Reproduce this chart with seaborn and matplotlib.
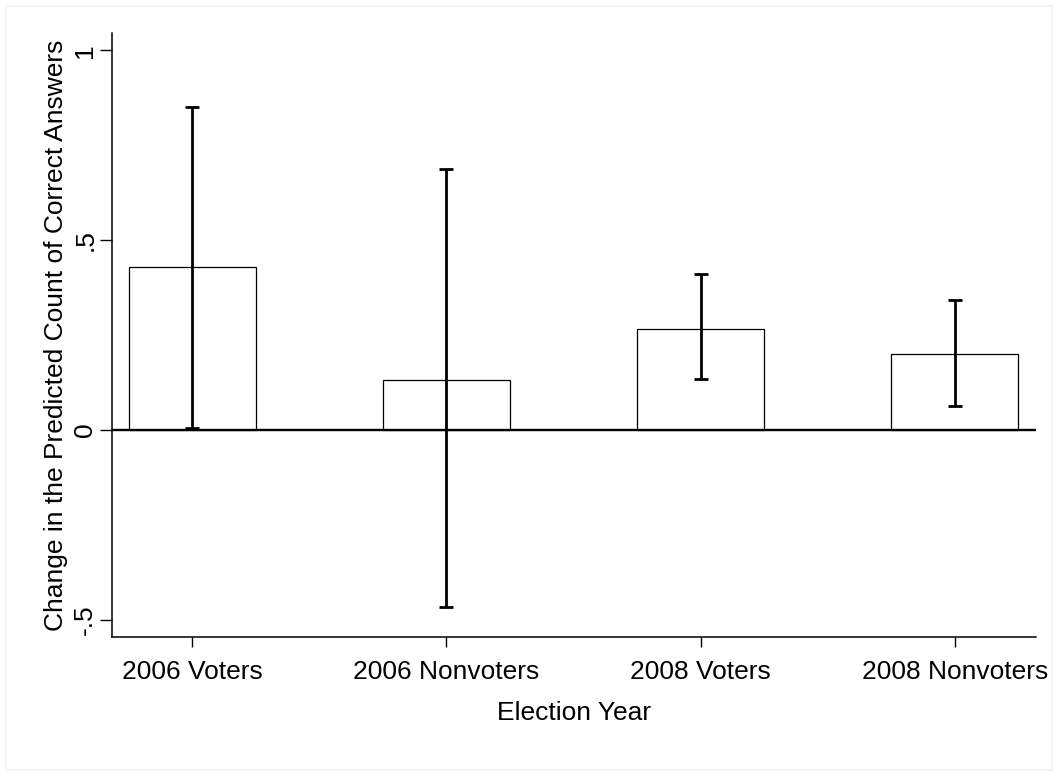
import numpy as np
import pandas as pd
import matplotlib
matplotlib.use("Agg")
import matplotlib.pyplot as plt
import seaborn as sns

# values
groups = ["2006 Voters", "2006 Nonvoters", "2008 Voters", "2008 Nonvoters"]
change = [0.429, 0.132, 0.267, 0.199]
ci_low = [0.005, -0.467, 0.134, 0.062]
ci_high = [0.850, 0.687, 0.412, 0.343]
yticks = [-0.5, 0, 0.5, 1]
ytick_labels = ["-.5", "0", ".5", "1"]

sns.set_style("white", {"xtick.bottom": True, "ytick.left": True,
                        "text.color": "black", "axes.labelcolor": "black",
                        "xtick.color": "black", "ytick.color": "black"})
plt.rcParams['font.family'] = ['Liberation Sans', 'DejaVu Sans']

df = pd.DataFrame({"group": groups, "change": change})

fig = plt.figure(figsize=(10.58, 7.76), dpi=100)
ax = fig.add_axes([0.1056, 0.179, 0.979 - 0.1056, 0.957 - 0.179])

sns.barplot(data=df, x="group", y="change", order=groups, width=0.5,
            color="white", edgecolor="black", linewidth=0.9,
            errorbar=None, ax=ax)

# confidence intervals
means = np.array(change)
yerr = np.vstack([means - np.array(ci_low), np.array(ci_high) - means])
ax.errorbar(np.arange(len(groups)), means, yerr=yerr, fmt="none",
            ecolor="black", elinewidth=2.0, capsize=4.7, capthick=2.0, zorder=4)

ax.axhline(0, color="black", lw=1.7, zorder=3)

ax.set_xlim(-0.316, 3.318)
ax.set_ylim(-0.546, 1.045)
ax.set_yticks(yticks)
ax.set_yticklabels(ytick_labels, rotation=90, va="center")
ax.tick_params(axis="both", which="major", length=8.4, width=1.0,
               color="black", labelcolor="black", labelsize=19, pad=2,
               direction="out", bottom=True, left=True)
ax.tick_params(axis="x", length=7.5, pad=9)

sns.despine(ax=ax, top=True, right=True)
for s in ["left", "bottom"]:
    ax.spines[s].set_linewidth(1.1)
    ax.spines[s].set_color("black")

ax.set_xlabel("Election Year", fontsize=19, labelpad=12, color="black")
ax.set_ylabel("Change in the Predicted Count of Correct Answers", fontsize=19,
              labelpad=4, color="black")

# faint outer frame like the graph region
frame = plt.Rectangle((0.006, 0.008), 0.988, 0.984, transform=fig.transFigure,
                      fill=False, edgecolor="#eef2f4", lw=1.2)
fig.patches.append(frame)

fig.savefig("out.png", dpi=100, facecolor="white")
